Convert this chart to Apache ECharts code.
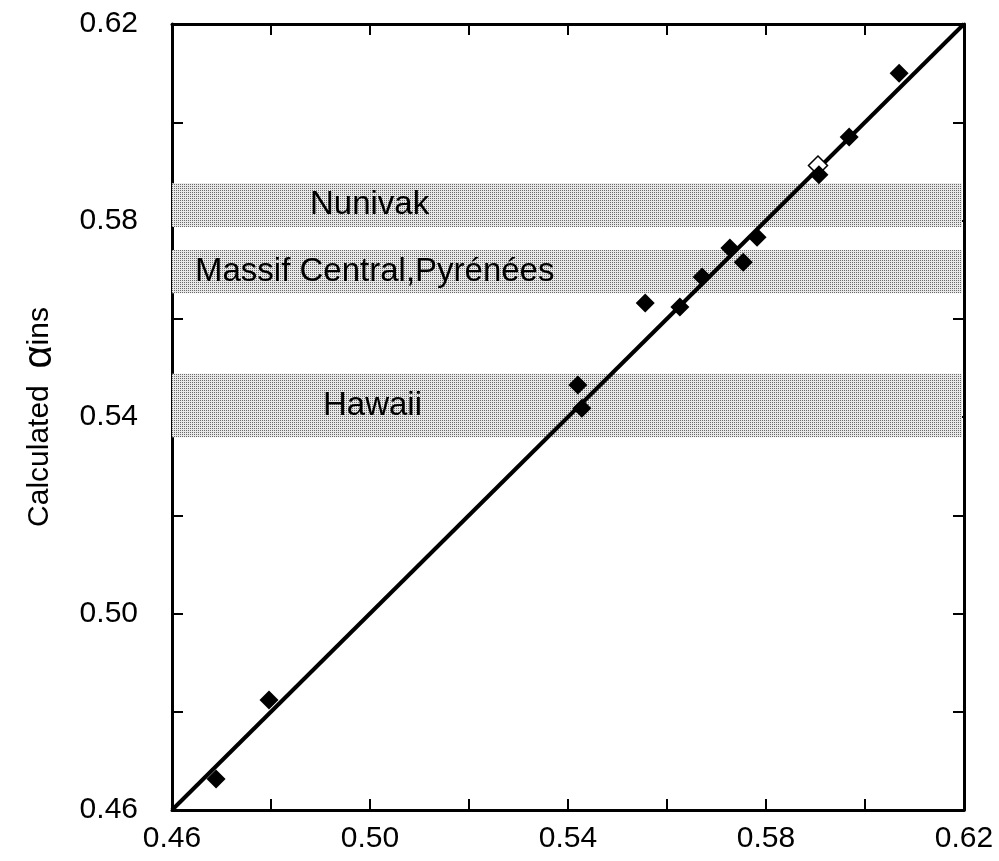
<!DOCTYPE html>
<html><head><meta charset="utf-8">
<script src="https://cdn.jsdelivr.net/npm/echarts@6/dist/echarts.min.js"></script>
<style>html,body{margin:0;padding:0;background:#fff}#c{width:999px;height:861px}</style>
</head><body><div id="c"></div>
<script>
// Data
const measuredX = [0.4689, 0.4796, 0.5420, 0.5428, 0.5556, 0.5626, 0.5671, 0.5727, 0.5754, 0.5782, 0.5907, 0.5968, 0.6069];
const calculatedY = [0.4663, 0.4824, 0.5465, 0.5418, 0.5632, 0.5624, 0.5685, 0.5744, 0.5715, 0.5766, 0.5893, 0.5970, 0.6100];
const openX = [0.5905];
const openY = [0.5912];
const bandNames = ['Nunivak', 'Massif Central,Pyrénées', 'Hawaii'];
const bandLow = [0.5787, 0.5652, 0.5359];
const bandHigh = [0.5876, 0.5740, 0.5488];
const lineX = [0.46, 0.62];
const lineY = [0.46, 0.62];
const tickLabels = ['0.46', '0.50', '0.54', '0.58', '0.62'];

// dotted texture
const pc = document.createElement('canvas');
pc.width = 4; pc.height = 4;
const g = pc.getContext('2d');
g.fillStyle = '#e8e8e8'; g.fillRect(0, 0, 4, 4);
g.fillStyle = '#6a6a6a';
g.fillRect(0, 0, 1, 1); g.fillRect(2, 2, 1, 1); g.fillRect(2, 0, 1, 1); g.fillRect(0, 2, 1, 1);

const labelOffsets = [138, 23, 151];
const font = 'Liberation Sans, Arial, sans-serif';

const fmt = v => {
  const s = v.toFixed(2);
  return tickLabels.indexOf(s) >= 0 ? s : '';
};

const axisCommon = {
  type: 'value', min: 0.46, max: 0.62, interval: 0.02,
  axisLine: { show: true, onZero: false, lineStyle: { color: '#000', width: 3 } },
  axisTick: { show: true, inside: true, length: 11, lineStyle: { color: '#000', width: 2 } },
  splitLine: { show: false }
};

const chart = echarts.init(document.getElementById('c'));
chart.setOption({
  animation: false,
  backgroundColor: '#fff',
  grid: { left: 172, right: 35, top: 24, bottom: 51 },
  xAxis: [
    Object.assign({}, axisCommon, {
      position: 'bottom',
      axisLabel: { formatter: fmt, color: '#000', fontSize: 30, fontFamily: font, margin: 14, showMinLabel: true, showMaxLabel: true }
    }),
    Object.assign({}, axisCommon, { position: 'top', axisLabel: { show: false } })
  ],
  yAxis: [
    Object.assign({}, axisCommon, {
      position: 'left',
      name: 'Calculated  {a|α}ins', nameLocation: 'middle', nameGap: 112, nameRotate: 90,
      nameTextStyle: { color: '#000', fontSize: 30, fontFamily: font,
        rich: { a: { fontSize: 40, fontFamily: font, color: '#000' } } },
      axisLabel: { formatter: fmt, color: '#000', fontSize: 30, fontFamily: font, margin: 34, showMinLabel: true, showMaxLabel: true }
    }),
    Object.assign({}, axisCommon, { position: 'right', axisLabel: { show: false } })
  ],
  series: [
    {
      type: 'line', data: [], silent: true,
      markArea: {
        silent: true,
        itemStyle: { color: { image: pc, repeat: 'repeat' } },
        data: bandNames.map((n, i) => [
          { yAxis: bandLow[i], x: 172, name: n,
            label: { show: true, position: [labelOffsets[i], '50%'], verticalAlign: 'middle', align: 'left', color: '#000', fontSize: 33, fontFamily: font } },
          { yAxis: bandHigh[i], x: 962 }
        ])
      }
    },
    {
      type: 'line', data: lineX.map((x, i) => [x, lineY[i]]), symbol: 'none',
      lineStyle: { color: '#000', width: 4 }, z: 3
    },
    {
      type: 'scatter', data: openX.map((x, i) => [x, openY[i]]), symbol: 'diamond', symbolSize: 19,
      itemStyle: { color: '#fff', borderColor: '#000', borderWidth: 1.5, opacity: 1 }, z: 4
    },
    {
      type: 'scatter', data: measuredX.map((x, i) => [x, calculatedY[i]]), symbol: 'diamond', symbolSize: 19,
      itemStyle: { color: '#000', opacity: 1 }, z: 5
    }
  ]
});
</script></body></html>
